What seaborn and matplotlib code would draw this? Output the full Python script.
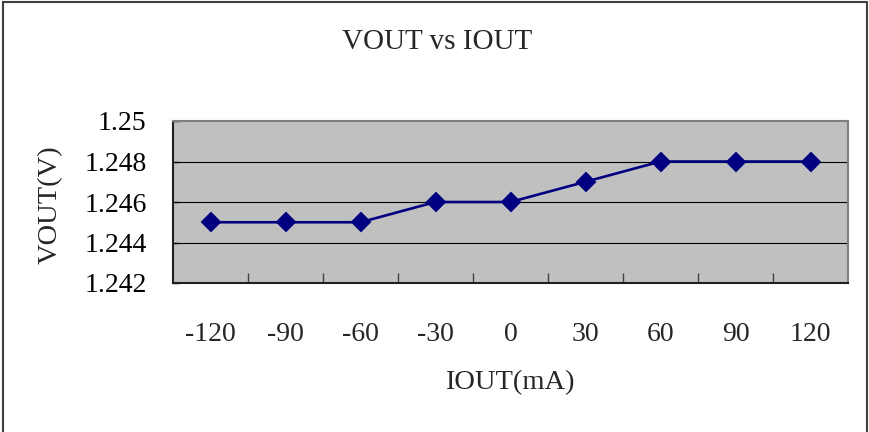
import matplotlib
matplotlib.use("Agg")
import matplotlib.pyplot as plt
import seaborn as sns
import pandas as pd
from matplotlib.patches import Rectangle

# data
iout_labels = ["-120", "-90", "-60", "-30", "0", "30", "60", "90", "120"]
vout = [1.245, 1.245, 1.245, 1.246, 1.246, 1.247, 1.248, 1.248, 1.248]
y_ticks = [1.242, 1.244, 1.246, 1.248, 1.25]
y_tick_labels = ["1.242", "1.244", "1.246", "1.248", "1.25"]

df = pd.DataFrame({"IOUT": iout_labels, "VOUT": vout})

sns.set_style("white")
plt.rcParams["font.family"] = ["Liberation Serif", "DejaVu Serif"]

fig = plt.figure(figsize=(8.69, 4.32), dpi=100)
ax = fig.add_axes([173 / 869, 1 - 283 / 432, (848 - 173) / 869, (283 - 121) / 432])
ax.set_facecolor("#C0C0C0")

sns.pointplot(data=df, x="IOUT", y="VOUT", order=iout_labels, color="#000080",
              markers="D", linestyles="-", errorbar=None, ax=ax,
              markersize=9, linewidth=1.9)

ax.set_xlim(-0.5, len(iout_labels) - 0.5)
ax.set_ylim(1.242, 1.25)

# gridlines
for v in y_ticks[1:-1]:
    ax.axhline(v, color="black", lw=0.8, zorder=0.5)

ax.set_yticks(y_ticks)
ax.set_yticklabels(y_tick_labels)
ax.tick_params(axis="y", direction="in", length=4, width=1, pad=19, labelsize=20,
               colors="black", left=True)

# x: labels at category centres, tick marks on category boundaries
ax.set_xticks(range(len(iout_labels)))
ax.set_xticklabels(iout_labels)
ax.tick_params(axis="x", which="major", length=0, pad=28, labelsize=20, bottom=True)
ax.set_xticks([i + 0.5 for i in range(len(iout_labels) - 1)], minor=True)
ax.tick_params(axis="x", which="minor", direction="in", length=7, width=1,
               color="#404040", bottom=True)

ax.set_xlabel("")
ax.set_ylabel("")

for side in ["top", "right"]:
    ax.spines[side].set_color("#808080")
    ax.spines[side].set_linewidth(1.5)
for side in ["left", "bottom"]:
    ax.spines[side].set_color("#202020")
    ax.spines[side].set_linewidth(1.5)
    ax.spines[side].set_visible(True)

fig.text(437 / 869, 1 - 42 / 432, "VOUT vs IOUT", ha="center", va="center", fontsize=21)
fig.text(510 / 869, 1 - 383 / 432, "IOUT(mA)", ha="center", va="center", fontsize=20.5)
fig.text(50 / 869, 1 - 205 / 432, "VOUT(V)", ha="center", va="center", fontsize=20.5,
         rotation=90)

# outer chart border
fig.patches.append(Rectangle((3 / 869, -0.1), (866.5 - 3) / 869, 1.1 - 2.5 / 432,
                             transform=fig.transFigure, fill=False,
                             edgecolor="#404040", lw=1.5, clip_on=False))

fig.savefig("out.png", dpi=100)
